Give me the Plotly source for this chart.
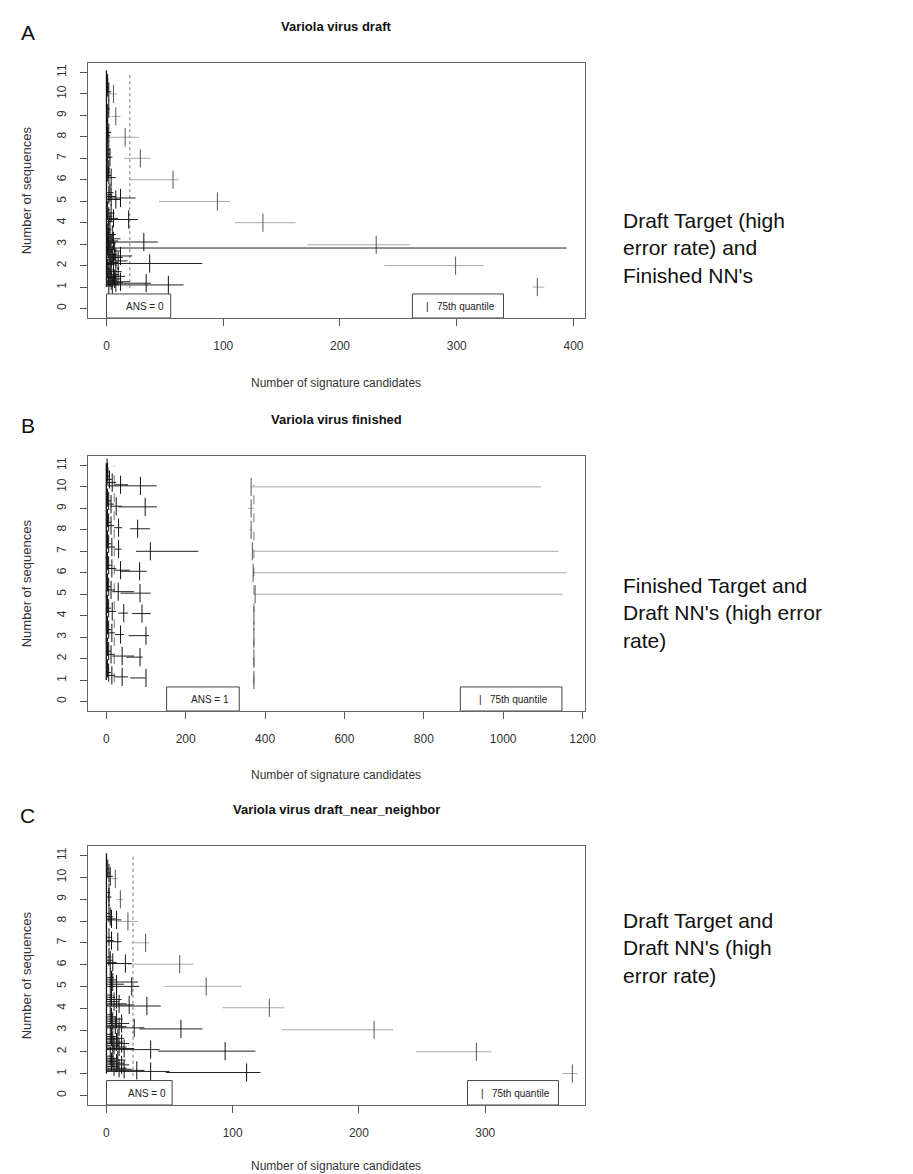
import plotly.graph_objects as go

W, H = 913, 1174

# ---------------- Panel A : Variola virus draft ----------------
A_gray_y  = [10.0, 8.95, 7.98, 7.0, 6.0, 4.99, 4.0, 2.97, 2.0, 1.0]
A_gray_x  = [6, 8, 16, 29, 57, 95, 134, 231, 299, 369]
A_gray_lo = [2, 4, 1, 15, 20, 45, 110, 172, 238, 365]
A_gray_hi = [9, 12, 28, 38, 62, 106, 162, 260, 323, 375]

A_blk_y  = [4.15, 3.1, 2.82, 2.1, 1.18, 1.1,
            1.05, 1.12, 1.2, 1.25, 1.3, 1.38, 1.45, 1.5, 1.58, 1.65, 1.72, 1.8, 1.88,
            2.05, 2.15, 2.22, 2.3, 2.38, 2.45, 2.52, 2.6, 2.68, 2.75, 2.9,
            3.05, 3.15, 3.25, 3.35, 3.45, 3.55, 3.7,
            4.05, 4.2, 4.3, 4.45, 4.6,
            5.08, 5.15, 5.22, 5.3, 5.4,
            6.1, 6.2, 6.35, 6.5,
            7.05, 7.2, 7.4,
            8.05, 8.2, 8.4,
            9.1, 9.3,
            10.1, 10.3, 10.5]
A_blk_x  = [19, 32, 2, 37, 34, 53,
            2, 5, 8, 12, 4, 7, 3, 10, 6, 2, 8, 4, 1,
            3, 6, 10, 4, 8, 12, 5, 3, 7, 2, 1,
            4, 6, 3, 2, 5, 1, 2,
            3, 6, 2, 4, 1,
            8, 12, 4, 2, 3,
            4, 2, 1, 2,
            3, 1, 2,
            1, 2, 1,
            1, 2,
            2, 1, 1]
A_blk_lo = [0, 0, 0, 0, 0, 0,
            0, 0, 0, 0, 0, 0, 0, 0, 0, 0, 0, 0, 0,
            0, 0, 0, 0, 0, 0, 0, 0, 0, 0, 0,
            0, 0, 0, 0, 0, 0, 0,
            0, 0, 0, 0, 0,
            0, 0, 0, 0, 0,
            0, 0, 0, 0,
            0, 0, 0,
            0, 0, 0,
            0, 0,
            0, 0, 0]
A_blk_hi = [27, 44, 394, 82, 38, 66,
            6, 10, 14, 20, 9, 12, 8, 16, 11, 5, 13, 7, 3,
            7, 10, 18, 8, 14, 22, 9, 6, 12, 5, 3,
            8, 10, 12, 5, 8, 3, 4,
            6, 10, 5, 7, 3,
            12, 25, 8, 5, 6,
            8, 4, 3, 3,
            5, 3, 3,
            3, 4, 2,
            2, 3,
            4, 2, 2]
A_spine_y = [1.0, 11.1]
A_thresh = 20
A_thresh_y = [0.95, 11.0]
A_xticks = [0, 100, 200, 300, 400]

# ---------------- Panel B : Variola virus finished ----------------
B_gray_y  = [10.0, 9.0, 8.0, 7.0, 6.0, 5.0, 4.0, 3.0, 2.0, 1.0]
B_gray_x  = [365, 365, 365, 368, 370, 375, 372, 372, 372, 372]
B_gray_lo = [365, 358, 360, 368, 368, 372, 372, 372, 368, 368]
B_gray_hi = [1095, 372, 368, 1140, 1160, 1150, 372, 372, 374, 374]

B_blk_y  = [10.05, 10.1, 10.2, 10.35, 10.5, 10.7, 10.9,
            9.07, 9.1, 9.2, 9.35, 9.5,
            8.05, 8.1, 8.2, 8.35, 8.55,
            7.0, 7.1, 7.2, 7.35, 7.55,
            6.07, 6.12, 6.2, 6.35, 6.55,
            5.05, 5.12, 5.2, 5.35, 5.55,
            4.1, 4.12, 4.2, 4.35, 4.55,
            3.07, 3.12, 3.2, 3.35, 3.55,
            2.07, 2.12, 2.2, 2.35, 2.55,
            1.1, 1.15, 1.22, 1.35, 1.55]
B_blk_x  = [86, 36, 15, 8, 4, 3, 2,
            98, 25, 12, 6, 3,
            79, 31, 12, 6, 3,
            111, 31, 14, 6, 3,
            84, 36, 14, 6, 3,
            85, 30, 12, 6, 3,
            90, 44, 15, 6, 3,
            100, 36, 14, 6, 3,
            85, 40, 12, 6, 3,
            100, 40, 14, 6, 3]
B_blk_lo = [3, 20, 0, 0, 0, 0, 0,
            30, 10, 0, 0, 0,
            60, 20, 0, 0, 0,
            75, 22, 0, 0, 0,
            36, 20, 0, 0, 0,
            36, 15, 0, 0, 0,
            65, 30, 0, 0, 0,
            56, 22, 0, 0, 0,
            50, 15, 0, 0, 0,
            60, 20, 0, 0, 0]
B_blk_hi = [127, 55, 25, 14, 8, 6, 4,
            128, 40, 20, 12, 6,
            110, 40, 20, 12, 6,
            232, 38, 22, 12, 6,
            102, 60, 25, 12, 6,
            112, 70, 22, 12, 6,
            112, 55, 25, 12, 6,
            108, 45, 22, 12, 6,
            92, 70, 22, 12, 6,
            100, 55, 22, 12, 6]
B_spine_y = [1.0, 11.1]
B_thresh = 20
B_thresh_y = [0.9, 11.0]
B_thresh2 = 372
B_thresh2_y = [0.8, 10.1]
B_xticks = [0, 200, 400, 600, 800, 1000, 1200]

# ---------------- Panel C : Variola virus draft_near_neighbor ----------------
C_gray_y  = [9.94, 8.99, 7.98, 7.0, 6.02, 5.0, 4.02, 3.01, 2.0, 1.0]
C_gray_x  = [7, 11, 17, 31, 58, 79, 129, 212, 293, 369]
C_gray_lo = [4, 8, 9, 20, 17, 46, 92, 139, 245, 361]
C_gray_hi = [9, 13, 25, 34, 69, 107, 141, 227, 305, 373]

C_blk_y  = [8.05, 7.05, 6.05, 5.0, 4.1, 4.15, 3.05, 3.1, 2.03, 2.1, 1.05, 1.1, 1.15,
            1.2, 1.25, 1.32, 1.4, 1.48, 1.55, 1.62, 1.7, 1.8,
            2.15, 2.22, 2.3, 2.38, 2.45, 2.55, 2.62, 2.7, 2.8,
            3.15, 3.22, 3.3, 3.4, 3.5, 3.6, 3.7,
            4.2, 4.3, 4.4, 4.5, 4.6,
            5.1, 5.2, 5.3, 5.4,
            6.1, 6.2, 6.35,
            7.1, 7.25,
            8.1, 8.2, 8.35,
            9.1, 9.3,
            10.05, 10.2, 10.4]
C_blk_x  = [8, 9, 15, 20, 32, 18, 59, 22, 94, 35, 111, 35, 24,
            14, 10, 6, 12, 8, 4, 9, 5, 3,
            14, 10, 6, 12, 8, 5, 9, 4, 3,
            10, 7, 12, 5, 8, 4, 3,
            10, 6, 8, 4, 3,
            8, 5, 4, 3,
            5, 3, 2,
            4, 2,
            4, 3, 2,
            2, 2,
            3, 2, 1]
C_blk_lo = [0, 0, 0, 0, 0, 0, 26, 0, 41, 0, 47, 0, 0,
            0, 0, 0, 0, 0, 0, 0, 0, 0,
            0, 0, 0, 0, 0, 0, 0, 0, 0,
            0, 0, 0, 0, 0, 0, 0,
            0, 0, 0, 0, 0,
            0, 0, 0, 0,
            0, 0, 0,
            0, 0,
            0, 0, 0,
            0, 0,
            0, 0, 0]
C_blk_hi = [12, 12, 20, 26, 43, 22, 76, 30, 118, 42, 122, 50, 30,
            20, 16, 10, 18, 14, 8, 15, 9, 6,
            22, 16, 10, 18, 13, 9, 14, 8, 5,
            16, 12, 18, 9, 13, 7, 5,
            16, 10, 12, 7, 5,
            14, 25, 8, 6,
            8, 5, 4,
            6, 4,
            7, 5, 3,
            4, 3,
            5, 3, 2]
C_spine_y = [1.0, 11.1]
C_thresh = 21
C_thresh_y = [0.9, 11.0]
C_xticks = [0, 100, 200, 300]

Y_TICKS = list(range(0, 12))

PANELS = [
    dict(letter="A", title="Variola virus draft", ans="ANS = 0",
         xr=[-15.8, 409.8], top=55, bot=310, xticks=A_xticks, xt=65,
         gy=A_gray_y, gx=A_gray_x, glo=A_gray_lo, ghi=A_gray_hi,
         by=A_blk_y, bx=A_blk_x, blo=A_blk_lo, bhi=A_blk_hi,
         spine=A_spine_y, thr=[(A_thresh, A_thresh_y, "dot")],
         ansbox=[0, 55], ansx=33, qbox=[262, 340], qx=303,
         side="Draft Target (high<br>error rate) and<br>Finished NN's", sidey=240),
    dict(letter="B", title="Variola virus finished", ans="ANS = 1",
         xr=[-46, 1206], top=448, bot=703, xticks=B_xticks, xt=64,
         gy=B_gray_y, gx=B_gray_x, glo=B_gray_lo, ghi=B_gray_hi,
         by=B_blk_y, bx=B_blk_x, blo=B_blk_lo, bhi=B_blk_hi,
         spine=B_spine_y, thr=[(B_thresh, B_thresh_y, "dash"), (B_thresh2, B_thresh2_y, "dash")],
         ansbox=[152, 335], ansx=262, qbox=[892, 1148], qx=1026,
         side="Finished Target and<br>Draft NN's (high error<br>rate)", sidey=605),
    dict(letter="C", title="Variola virus draft_near_neighbor", ans="ANS = 0",
         xr=[-14.6, 379], top=838, bot=1097, xticks=C_xticks, xt=61,
         gy=C_gray_y, gx=C_gray_x, glo=C_gray_lo, ghi=C_gray_hi,
         by=C_blk_y, bx=C_blk_x, blo=C_blk_lo, bhi=C_blk_hi,
         spine=C_spine_y, thr=[(C_thresh, C_thresh_y, "dot")],
         ansbox=[0, 52], ansx=32, qbox=[286, 358], qx=324,
         side="Draft Target and<br>Draft NN's (high<br>error rate)", sidey=940),
]

FONT = "Liberation Sans, Arial, Helvetica, sans-serif"
BOX_L, BOX_R = 81, 584

fig = go.Figure()
layout = dict(width=W, height=H, margin=dict(l=0, r=0, t=0, b=0),
              paper_bgcolor="white", plot_bgcolor="white", showlegend=False,
              font=dict(family=FONT, color="#222"))
annotations, shapes = [], []


def cross_trace(xa, ya, xs, ys, lo, hi, line_color, mark_color):
    return go.Scatter(
        x=xs, y=ys, mode="markers", xaxis=xa, yaxis=ya, hoverinfo="skip",
        marker=dict(symbol="line-ns", size=13, color=mark_color,
                    line=dict(width=1, color=mark_color)),
        error_x=dict(type="data", symmetric=False,
                     array=[h - v for h, v in zip(hi, xs)],
                     arrayminus=[v - l for v, l in zip(xs, lo)],
                     color=line_color, thickness=1, width=0))


def py(px):
    return 1 - px / H


for i, p in enumerate(PANELS):
    n = "" if i == 0 else str(i + 1)
    xa, ya = "x" + n, "y" + n
    layout["xaxis" + n] = dict(domain=[BOX_L / W, BOX_R / W], range=p["xr"], anchor=ya,
                               tickmode="array", tickvals=p["xticks"],
                               ticks="outside", ticklen=7, tickcolor="#555",
                               showline=True, mirror=True, linecolor="#666", linewidth=1,
                               showgrid=False, zeroline=False,
                               tickfont=dict(size=12, color="#333"), ticklabelstandoff=10)
    layout["yaxis" + n] = dict(domain=[py(p["bot"]), py(p["top"])], range=[-0.44, 11.44],
                               anchor=xa, tickmode="array", tickvals=Y_TICKS,
                               ticks="outside", ticklen=7, tickcolor="#555",
                               showline=True, mirror=True, linecolor="#666", linewidth=1,
                               showgrid=False, zeroline=False, tickangle=-90,
                               tickfont=dict(size=12, color="#333"), ticklabelstandoff=9)
    fig.add_trace(go.Scatter(x=[0, 0], y=p["spine"], mode="lines", xaxis=xa, yaxis=ya,
                             line=dict(color="#111", width=1.3), hoverinfo="skip"))
    for tx, ty, dsh in p["thr"]:
        fig.add_trace(go.Scatter(x=[tx, tx], y=ty, mode="lines", xaxis=xa, yaxis=ya,
                                 line=dict(color="#777", width=1, dash=dsh), hoverinfo="skip"))
    fig.add_trace(cross_trace(xa, ya, p["gx"], p["gy"], p["glo"], p["ghi"], "#aaaaaa", "#555555"))
    fig.add_trace(cross_trace(xa, ya, p["bx"], p["by"], p["blo"], p["bhi"], "#222222", "#111111"))

    for bx0, bx1 in (p["ansbox"], p["qbox"]):
        shapes.append(dict(type="rect", xref=xa, yref=ya, x0=bx0, x1=bx1, y0=-0.44, y1=0.68,
                           line=dict(color="#444", width=1), fillcolor="white", layer="above"))
    annotations.append(dict(x=p["ansx"], y=0.1, xref=xa, yref=ya, text=p["ans"], showarrow=False,
                            xanchor="center", yanchor="middle",
                            font=dict(size=10, color="#222")))
    annotations.append(dict(x=p["qx"], y=0.1, xref=xa, yref=ya, text="|   75th quantile",
                            xanchor="center", yanchor="middle",
                            showarrow=False, font=dict(size=10, color="#222")))

    cx = (BOX_L + BOX_R) / 2 / W
    annotations.append(dict(x=cx, y=py(p["top"] - 37), xref="paper", yref="paper",
                            xanchor="center", yanchor="middle",
                            text="<b>" + p["title"] + "</b>", showarrow=False,
                            font=dict(size=13, color="#111")))
    annotations.append(dict(x=20 / W, y=py(p["top"] - 31), xref="paper", yref="paper",
                            xanchor="center", yanchor="middle",
                            text=p["letter"], showarrow=False, font=dict(size=21, color="#111")))
    annotations.append(dict(x=cx, y=py(p["bot"] + p["xt"]), xref="paper", yref="paper",
                            xanchor="center", yanchor="middle",
                            text="Number of signature candidates", showarrow=False,
                            font=dict(size=12, color="#333")))
    annotations.append(dict(x=19 / W, y=py((p["top"] + p["bot"]) / 2), xref="paper",
                            yref="paper", xanchor="center", yanchor="middle",
                            text="Number of sequences", textangle=-90,
                            showarrow=False, font=dict(size=13, color="#333")))
    annotations.append(dict(x=620 / W, y=py(p["sidey"]), xref="paper", yref="paper",
                            xanchor="left", yanchor="middle", align="left", text=p["side"],
                            showarrow=False, font=dict(size=21, color="#111")))

layout["annotations"] = annotations
layout["shapes"] = shapes
fig.update_layout(**layout)
fig.write_html("out.html")
